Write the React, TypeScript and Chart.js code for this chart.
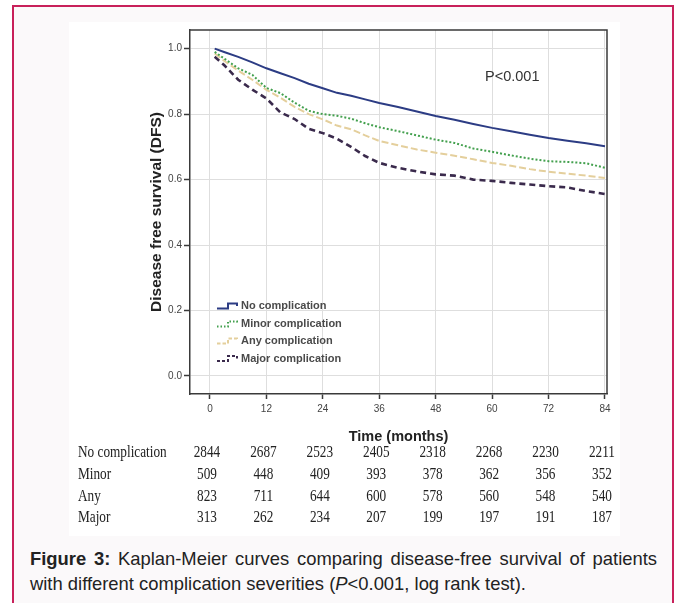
import React, { useEffect, useRef } from "react";
import { Chart, registerables } from "chart.js";

Chart.register(...registerables);

// ---- data ----
const months = [1, 3, 6, 9, 12, 15, 18, 21, 24, 27, 30, 33, 36, 40, 44, 48, 52, 56, 60, 64, 68, 72, 76, 80, 84];
const noComplication = [1.0, 0.99, 0.975, 0.958, 0.94, 0.925, 0.91, 0.893, 0.879, 0.865, 0.856, 0.845, 0.834, 0.822, 0.808, 0.794, 0.783, 0.77, 0.758, 0.748, 0.737, 0.727, 0.719, 0.711, 0.702];
const minorComplication = [0.99, 0.97, 0.94, 0.92, 0.88, 0.864, 0.835, 0.81, 0.8, 0.795, 0.786, 0.772, 0.76, 0.748, 0.735, 0.722, 0.712, 0.695, 0.685, 0.674, 0.664, 0.656, 0.654, 0.65, 0.636];
const anyComplication = [0.985, 0.963, 0.933, 0.905, 0.874, 0.85, 0.822, 0.8, 0.784, 0.765, 0.754, 0.735, 0.718, 0.705, 0.692, 0.682, 0.673, 0.662, 0.651, 0.642, 0.632, 0.624, 0.618, 0.612, 0.605];
const majorComplication = [0.975, 0.95, 0.905, 0.875, 0.848, 0.805, 0.785, 0.755, 0.742, 0.725, 0.7, 0.672, 0.651, 0.636, 0.625, 0.616, 0.612, 0.6, 0.596, 0.59, 0.585, 0.58, 0.576, 0.565, 0.556];
const seriesLabels = ["No complication", "Minor complication", "Any complication", "Major complication"];

const xTicks = [0, 12, 24, 36, 48, 60, 72, 84];
const yTicks = [0, 0.2, 0.4, 0.6, 0.8, 1.0];

const riskRowLabels = ["No complication", "Minor", "Any", "Major"];
const riskNo = [2844, 2687, 2523, 2405, 2318, 2268, 2230, 2211];
const riskMinor = [509, 448, 409, 393, 378, 362, 356, 352];
const riskAny = [823, 711, 644, 600, 578, 560, 548, 540];
const riskMajor = [313, 262, 234, 207, 199, 197, 191, 187];

const pValueText = "P<0.001";
const xTitle = "Time (months)";
const yTitle = "Disease free survival (DFS)";

// ---- styles ----
const SANS = "'Liberation Sans', Arial, sans-serif";
const SERIF = "'Liberation Serif', 'Times New Roman', serif";
const lineStyles = [
  { color: "#2c3c84", dash: [] as number[], width: 2 },
  { color: "#43a04e", dash: [2, 2], width: 2 },
  { color: "#e4cf9c", dash: [7, 3], width: 2 },
  { color: "#3a2a4c", dash: [6, 4], width: 2.6 },
];

const seriesValues = [noComplication, minorComplication, anyComplication, majorComplication];
const riskRows = [riskNo, riskMinor, riskAny, riskMajor];

const decorPlugin = {
  id: "decor",
  afterDatasetsDraw(chart: any) {
    const { ctx, chartArea: ca, scales } = chart;
    const xs = scales.x;
    const ys = scales.y;
    ctx.save();

    // frame top + right
    ctx.strokeStyle = "#3a3a3a";
    ctx.lineWidth = 1.5;
    ctx.setLineDash([]);
    ctx.beginPath();
    ctx.moveTo(ca.left, ca.top);
    ctx.lineTo(ca.right, ca.top);
    ctx.lineTo(ca.right, ca.bottom);
    ctx.stroke();

    // p value
    ctx.fillStyle = "#333";
    ctx.font = `14.5px ${SANS}`;
    ctx.textAlign = "left";
    ctx.textBaseline = "middle";
    ctx.fillText(pValueText, xs.getPixelForValue(58.5), ys.getPixelForValue(0.913));

    // legend (inside plot, bottom-left)
    const legOffsets = [-88, -70, -53, -35.5];
    seriesLabels.forEach((lab, i) => {
      const cy = ca.bottom + legOffsets[i];
      const st = lineStyles[i];
      const x0 = ca.left + 27;
      const xm = ca.left + 38;
      const x1 = ca.left + 47;
      ctx.strokeStyle = st.color;
      ctx.lineWidth = Math.min(st.width, 2);
      ctx.setLineDash(st.dash.length ? [Math.max(1.5, st.dash[0] / 2), 2] : []);
      ctx.beginPath();
      ctx.moveTo(x0, cy + 2.5);
      ctx.lineTo(xm, cy + 2.5);
      ctx.lineTo(xm, cy - 2.5);
      ctx.lineTo(x1, cy - 2.5);
      ctx.lineTo(x1, cy);
      ctx.stroke();
      ctx.setLineDash([]);
      ctx.fillStyle = "#4a4a4a";
      ctx.font = `bold 11px ${SANS}`;
      ctx.textAlign = "left";
      ctx.textBaseline = "middle";
      ctx.fillText(lab, ca.left + 51, cy);
    });

    // number-at-risk table
    const rowOffsets = [59, 81, 103, 124];
    const sx = 0.78;
    ctx.fillStyle = "#222";
    ctx.font = `17px ${SERIF}`;
    ctx.textBaseline = "middle";
    riskRows.forEach((row, r) => {
      const cy = ca.bottom + rowOffsets[r];
      ctx.save();
      ctx.scale(sx, 1);
      ctx.textAlign = "left";
      ctx.fillText(riskRowLabels[r], 9 / sx, cy);
      ctx.textAlign = "center";
      row.forEach((n, i) => {
        const px = xs.getPixelForValue(xTicks[i]) - 3;
        ctx.fillText(String(n), px / sx, cy);
      });
      ctx.restore();
    });

    ctx.restore();
  },
};

export default function App() {
  const ref = useRef<HTMLCanvasElement>(null);

  useEffect(() => {
    if (!ref.current) return;
    const datasets = seriesValues.map((vals, i) => ({
      label: seriesLabels[i],
      data: months.map((m, k) => ({ x: m, y: vals[k] })),
      borderColor: lineStyles[i].color,
      borderDash: lineStyles[i].dash,
      borderWidth: lineStyles[i].width,
      pointRadius: 0,
      fill: false,
      tension: 0,
    }));

    const chart = new Chart(ref.current, {
      type: "line",
      data: { datasets },
      options: {
        animation: false,
        responsive: false,
        maintainAspectRatio: false,
        layout: { padding: { left: 0, top: 7, right: 13, bottom: 90 } },
        plugins: { legend: { display: false }, tooltip: { enabled: false } },
        scales: {
          x: {
            type: "linear",
            min: -4.25,
            max: 84.43,
            afterBuildTicks: (s: any) => {
              s.ticks = xTicks.map((v) => ({ value: v }));
            },
            afterFit: (s: any) => {
              s.height = 52;
            },
            ticks: {
              color: "#444",
              font: { family: SANS, size: 10 },
              padding: 4,
              maxRotation: 0,
              autoSkip: false,
              callback: (v: any) => String(v),
            },
            grid: {
              color: "#dedede",
              lineWidth: 1,
              tickLength: 5,
              tickColor: "#3a3a3a",
              tickWidth: 1.5,
            },
            border: { display: true, color: "#3a3a3a", width: 1.5 },
            title: {
              display: true,
              text: xTitle,
              color: "#222",
              font: { family: SANS, size: 14.5, weight: "bold" },
              padding: { top: 0, bottom: 0 },
            },
          },
          y: {
            type: "linear",
            min: -0.055,
            max: 1.057,
            afterBuildTicks: (s: any) => {
              s.ticks = yTicks.map((v) => ({ value: v }));
            },
            afterFit: (s: any) => {
              s.width = 121;
            },
            ticks: {
              color: "#444",
              font: { family: SANS, size: 10 },
              padding: 2,
              autoSkip: false,
              callback: (v: any) => Number(v).toFixed(1),
            },
            grid: {
              color: "#dedede",
              lineWidth: 1,
              tickLength: 6,
              tickColor: "#3a3a3a",
              tickWidth: 1.5,
            },
            border: { display: true, color: "#3a3a3a", width: 1.5 },
            title: {
              display: true,
              text: yTitle,
              color: "#222",
              font: { family: SANS, size: 15.5, weight: "bold" },
              padding: { top: 78, bottom: 0 },
            },
          },
        },
      },
      plugins: [decorPlugin],
    } as any);

    return () => chart.destroy();
  }, []);

  return (
    <div style={{ position: "absolute", left: 0, top: 0, width: 677, height: 603, overflow: "hidden", background: "#ffffff" }}>
      <div
        style={{
          position: "absolute",
          left: 12,
          top: 5,
          width: 658,
          height: 660,
          border: "2px solid #c8205a",
          background: "#fbf9fa",
        }}
      />
      <div style={{ position: "absolute", left: 69, top: 22, width: 551, height: 514, background: "#ffffff" }}>
        <canvas ref={ref} width={551} height={514} style={{ width: 551, height: 514, display: "block" }} />
      </div>
      <div
        style={{
          position: "absolute",
          left: 30,
          top: 546,
          width: 627,
          fontFamily: SANS,
          fontSize: 18.4,
          lineHeight: "25px",
          textAlign: "justify",
          color: "#222",
        }}
      >
        <b>Figure 3:</b> Kaplan-Meier curves comparing disease-free survival of patients with different complication
        severities (<i>P</i>&lt;0.001, log rank test).
      </div>
    </div>
  );
}
